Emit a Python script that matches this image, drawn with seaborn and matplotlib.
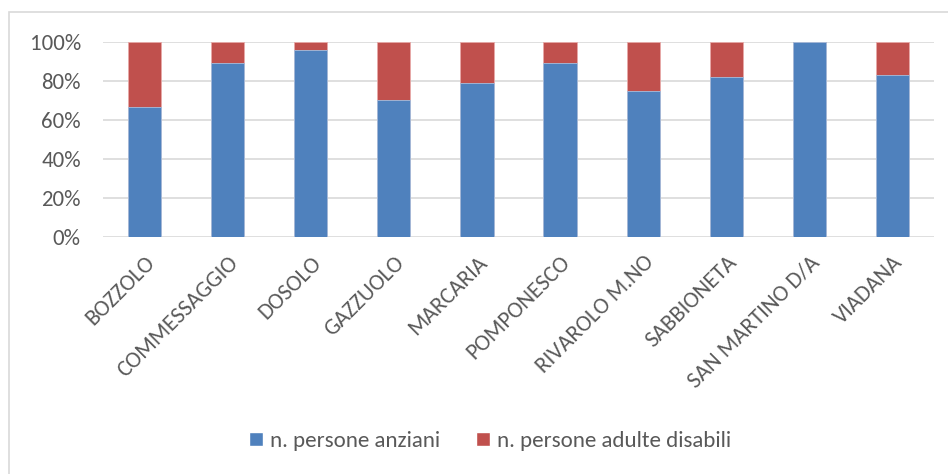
import pandas as pd
import matplotlib
matplotlib.use('Agg')
import matplotlib.pyplot as plt
import seaborn as sns
from matplotlib.patches import Rectangle, Patch
from matplotlib.ticker import PercentFormatter

# dati (quota percentuale per comune)
comuni = ['BOZZOLO', 'COMMESSAGGIO', 'DOSOLO', 'GAZZUOLO', 'MARCARIA',
          'POMPONESCO', 'RIVAROLO M.NO', 'SABBIONETA', 'SAN MARTINO D/A', 'VIADANA']
anziani = [66.7, 88.9, 95.5, 70.0, 79.0, 88.9, 75.0, 82.1, 100.0, 82.8]
disabili = [100 - a for a in anziani]

serie = ['n. persone anziani', 'n. persone adulte disabili']
colori = ['#4F81BD', '#C0504D']

df = pd.DataFrame({'comune': comuni, 'anziani': anziani, 'disabili': disabili})
df['totale'] = df['anziani'] + df['disabili']

sns.set_style('white')
plt.rcParams['font.family'] = ['Carlito', 'Liberation Sans', 'DejaVu Sans']
import logging
logging.getLogger('matplotlib.font_manager').setLevel(logging.ERROR)

fig = plt.figure(figsize=(9.48, 4.74), dpi=100)
ax = fig.add_axes([103 / 948, 0.5, (934 - 103) / 948, 0.412])

# barra totale (rossa) sotto, anziani (blu) sopra
sns.barplot(data=df, x='comune', y='totale', color=colori[1], width=0.4,
            saturation=1, ax=ax, edgecolor='#E8A9A8', linewidth=0.6)
sns.barplot(data=df, x='comune', y='anziani', color=colori[0], width=0.4,
            saturation=1, ax=ax, edgecolor='#A7BFDE', linewidth=0.6)

ax.set_ylim(0, 100)
ax.set_xlim(-0.5, len(comuni) - 0.5)
ax.set_yticks(range(0, 101, 20))
ax.yaxis.set_major_formatter(PercentFormatter(decimals=0))
ax.grid(axis='y', color='#D9D9D9', linewidth=1.2)
ax.set_axisbelow(True)
for s in ax.spines.values():
    s.set_visible(False)
ax.set_xlabel('')
ax.set_ylabel('')
ax.tick_params(axis='both', length=0, colors='#595959', labelsize=16.5)
ax.tick_params(axis='y', pad=16)
ax.tick_params(axis='x', pad=11)
plt.setp(ax.get_xticklabels(), rotation=45, ha='right', va='top', rotation_mode='anchor')

handles = [Patch(facecolor=c, label=l) for c, l in zip(colori, serie)]
fig.legend(handles=handles, loc='center', bbox_to_anchor=(490 / 948, 1 - 441 / 474),
           ncol=2, frameon=False, fontsize=16.5, handlelength=0.6, handleheight=0.6,
           handletextpad=0.3, columnspacing=1.6, labelcolor='#595959')

# cornice del grafico (esce a destra e in basso)
fig.patches.append(Rectangle((9 / 948, -0.05), 1.0, 1.05 - 12 / 474,
                             transform=fig.transFigure, fill=False,
                             edgecolor='#D9D9D9', linewidth=1.2))

fig.savefig('out.png', dpi=100)
